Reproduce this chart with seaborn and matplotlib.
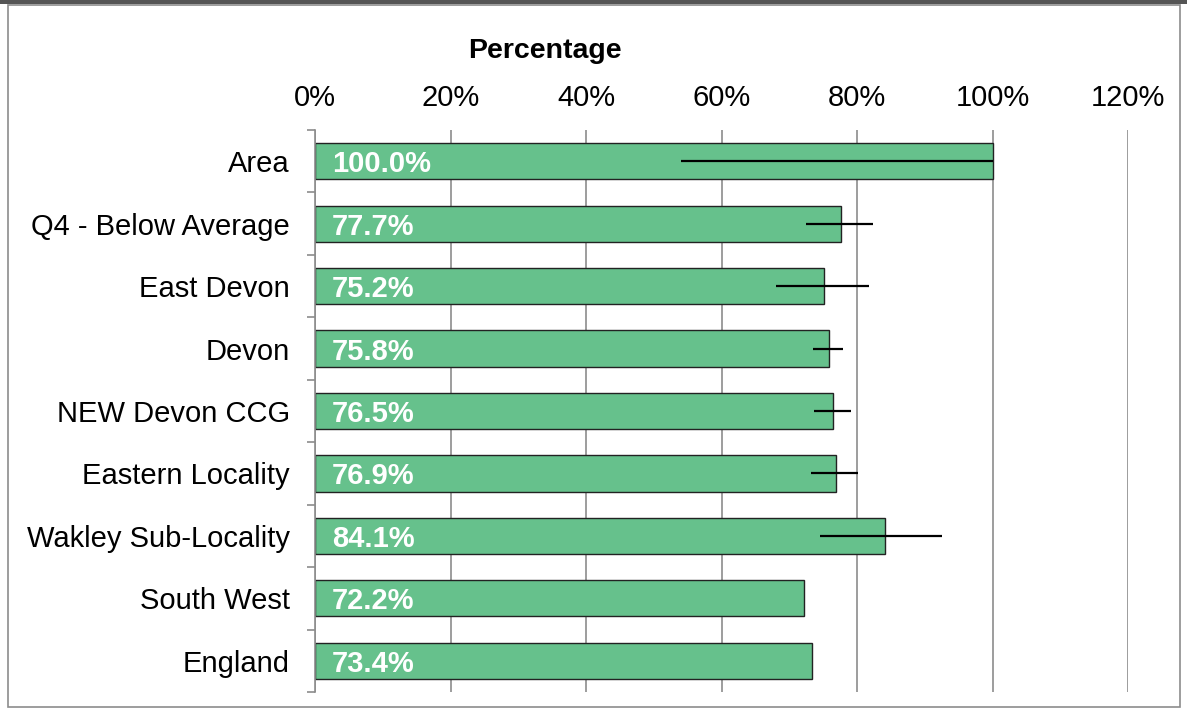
import matplotlib
matplotlib.use("Agg")
import matplotlib.pyplot as plt
import matplotlib.patches as mpatches
from matplotlib.ticker import FixedLocator, FuncFormatter
import seaborn as sns
import pandas as pd

categories = ["Area", "Q4 - Below Average", "East Devon", "Devon", "NEW Devon CCG",
              "Eastern Locality", "Wakley Sub-Locality", "South West", "England"]
values = [100.0, 77.7, 75.2, 75.8, 76.5, 76.9, 84.1, 72.2, 73.4]
ci_low = [54.0, 72.4, 68.1, 73.5, 73.7, 73.2, 74.6, None, None]
ci_high = [100.0, 82.4, 81.7, 78.0, 79.1, 80.2, 92.5, None, None]
x_ticks = [0, 20, 40, 60, 80, 100, 120]

sns.set_theme(style="white")
plt.rcParams['font.family'] = ['Liberation Sans', 'DejaVu Sans']
plt.rcParams['text.color'] = 'black'
plt.rcParams['axes.labelcolor'] = 'black'

df = pd.DataFrame({"cat": categories, "val": values})

fig = plt.figure(figsize=(11.87, 7.17), dpi=100)
ax = fig.add_axes([315/1187, 1-692/717, (1128-315)/1187, (692-130)/717])

sns.barplot(data=df, x="val", y="cat", orient="h", color="#66c18c", saturation=1,
            width=0.58, edgecolor="#222222", linewidth=1.0, ax=ax, zorder=2)

for i, (lo, hi) in enumerate(zip(ci_low, ci_high)):
    if lo is not None:
        ax.hlines(i, lo, hi, color="black", linewidth=1.6, zorder=3)

for i, v in enumerate(values):
    ax.text(2.5, i, f"{v:.1f}%", color="white", fontweight="bold", fontsize=21,
            va="center_baseline", ha="left", zorder=4)

ax.set_xlim(0, 120)
ax.set_ylim(len(categories) - 0.5, -0.5)
ax.xaxis.set_major_locator(FixedLocator(x_ticks))
ax.xaxis.set_major_formatter(FuncFormatter(lambda x, p: f"{int(x)}%"))
ax.xaxis.tick_top()
ax.xaxis.set_label_position("top")
ax.tick_params(axis="x", which="major", length=0, pad=13, labelsize=21, colors="black")
ax.set_xlabel("Percentage", fontsize=20.5, fontweight="bold", color="black", labelpad=8)
ax.xaxis.set_label_coords((545-315)/813, 1 + (130-51)/562)
ax.xaxis.label.set_va("center")
ax.set_ylabel("")
ax.grid(axis="x", color="#8c8c8c", linewidth=1.2, zorder=0)
ax.set_axisbelow(True)

ax.tick_params(axis="y", which="major", length=0, pad=18, labelsize=21, colors="black")
ax.yaxis.set_minor_locator(FixedLocator([i - 0.5 for i in range(len(categories) + 1)]))
ax.tick_params(axis="y", which="minor", left=True, length=6, width=1.2, color="#8c8c8c")

for s in ["top", "right", "bottom"]:
    ax.spines[s].set_visible(False)
ax.spines["left"].set_color("#8c8c8c")
ax.spines["left"].set_linewidth(1.2)

fig.patches.append(mpatches.Rectangle((8/1187, 10/717), (1180-8)/1187, (712-10)/717,
                                      transform=fig.transFigure, fill=False,
                                      edgecolor="#8c8c8c", linewidth=1.2))
fig.patches.append(mpatches.Rectangle((0, 1-4/717), 1, 4/717, transform=fig.transFigure,
                                      facecolor="#555555", edgecolor="none"))

fig.savefig("out.png", dpi=100)
